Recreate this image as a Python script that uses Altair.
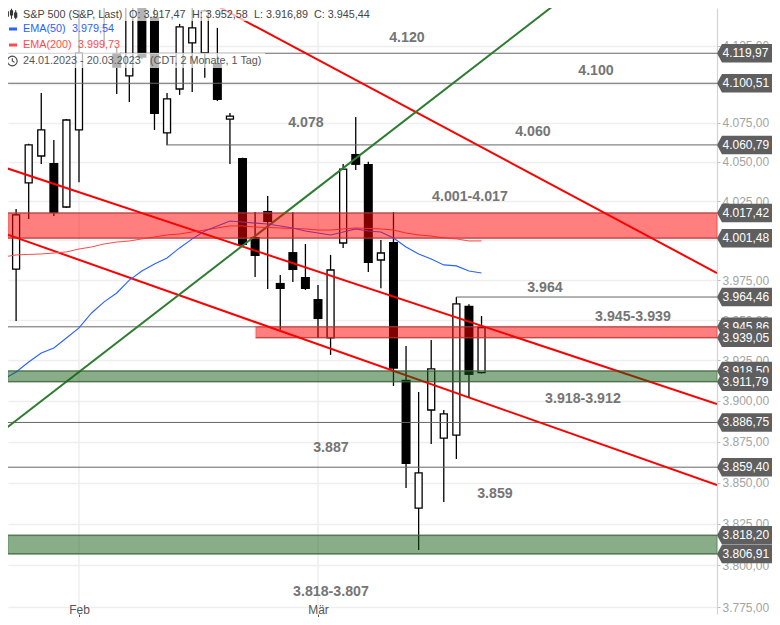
import altair as alt
import pandas as pd

FONT = "Liberation Sans"

# --- candles: bar index (0 = 1 Feb, 19 = 1 Mar), open, high, low, close
bar_index = list(range(-6, 33))
opens = [4001.6, 3982.0, 4036.5, 4053.7, 4049.2, 4021.2, 4070.4, 4158.0, 4136.7, 4120.2, 4105.3, 4153.5, 4143.7,
         4068.5, 4096.8, 4126.7, 4120.2, 4113.7, 4077.4, 4052.4, 4002.2, 4018.7, 3973.3, 3992.7, 3977.0, 3963.2,
         3939.0, 3998.4, 4055.0, 4048.6, 3987.7, 3999.0, 3913.0, 3834.6, 3894.4, 3877.2, 3879.0, 3959.0, 3917.47]
highs = [4024.4, 4020.0, 4061.5, 4094.2, 4064.0, 4077.4, 4148.2, 4195.0, 4182.0, 4124.0, 4176.0, 4156.0, 4156.0,
         4094.2, 4139.1, 4159.0, 4148.5, 4136.5, 4081.3, 4052.6, 4018.0, 4028.2, 3978.3, 4018.0, 3997.8, 3972.0,
         3990.9, 4048.6, 4078.7, 4050.0, 4000.3, 4018.0, 3934.0, 3905.5, 3937.7, 3894.4, 3964.5, 3960.0, 3952.58]
lows = [3990.2, 3949.5, 4013.6, 4048.6, 4015.5, 4020.6, 4037.0, 4153.0, 4124.0, 4093.6, 4088.4, 4116.0, 4070.4,
        4060.5, 4093.0, 4094.9, 4104.0, 4089.0, 4048.6, 3996.5, 3977.0, 3969.5, 3944.0, 3973.9, 3968.9, 3939.0,
        3928.4, 3995.3, 4044.7, 3980.2, 3970.0, 3909.2, 3846.8, 3809.3, 3873.5, 3838.3, 3864.4, 3902.4, 3916.89]
closes = [4016.8, 4016.2, 4060.8, 4070.4, 4017.4, 4076.8, 4120.2, 4179.0, 4136.5, 4110.5, 4164.0, 4117.0, 4080.7,
          4090.4, 4137.2, 4136.5, 4147.6, 4089.7, 4079.3, 3997.2, 3990.2, 4011.7, 3969.5, 3981.4, 3969.5, 3950.7,
          3981.4, 4045.3, 4048.0, 3985.8, 3992.1, 3919.8, 3861.3, 3855.9, 3919.8, 3892.0, 3960.2, 3916.0, 3945.44]

ema50 = [3913.5, 3917.8, 3924.0, 3929.6, 3932.7, 3938.9, 3945.2, 3954.5, 3961.4, 3967.0, 3975.1, 3980.8, 3985.2,
         3989.0, 3995.3, 4001.0, 4006.0, 4009.2, 4012.3, 4011.7, 4011.0, 4010.4, 4009.2, 4007.9, 4006.0, 4004.7,
         4003.5, 4005.4, 4007.3, 4006.0, 4005.4, 4001.6, 3995.9, 3991.5, 3988.3, 3984.6, 3984.0, 3980.8, 3979.54]
ema200 = [3989.6, 3990.9, 3991.2, 3991.5, 3992.1, 3992.8, 3994.6, 3995.9, 3997.8, 3999.0, 3999.7, 4001.0, 4002.2,
          4003.5, 4004.1, 4005.4, 4006.6, 4007.9, 4009.2, 4009.2, 4008.5, 4008.2, 4007.9, 4007.6, 4007.3, 4006.6,
          4006.6, 4007.3, 4007.9, 4007.6, 4007.3, 4006.6, 4004.7, 4003.5, 4002.8, 4001.6, 4001.0, 3999.7, 3999.73]

# --- trend lines: index and price of both ends
trend_red_upper = [(10.07, 4154.8), (50.72, 3979.5)]
trend_red_mid = [(-6.28, 4047.3), (50.72, 3898.1)]
trend_red_lower = [(-6.28, 4005.4), (50.72, 3848.5)]
trend_green = [(-6.28, 3880.3), (38.31, 4154.8)]

# --- horizontal levels and zones
right_end = 50.72
left_end = -5.644
level_prices = [4119.97, 4100.51, 4060.79, 4017.42, 4001.48, 3964.46, 3945.86, 3939.05,
                3918.50, 3911.79, 3886.75, 3859.40, 3818.20, 3806.91]
level_starts = [left_end, left_end, 7, left_end, left_end, 30, left_end, 14.05,
                left_end, left_end, left_end, left_end, left_end, left_end]
level_labels = ["4.119,97", "4.100,51", "4.060,79", "4.017,42", "4.001,48", "3.964,46", "3.945,86", "3.939,05",
                "3.918,50", "3.911,79", "3.886,75", "3.859,40", "3.818,20", "3.806,91"]
red_zones = [(left_end, 4017.42, 4001.48), (14.05, 3945.86, 3939.05)]
green_zones = [(left_end, 3918.50, 3911.79), (left_end, 3818.20, 3806.91)]

# --- annotations
note_texts = ["4.120", "4.100", "4.078", "4.060", "4.001-4.017", "3.964", "3.945-3.939", "3.918-3.912",
              "3.887", "3.859", "3.818-3.807"]
note_index = [26.07, 41.1, 18.04, 36.09, 31.08, 37.04, 44.04, 40.06, 20.03, 33.07, 20.03]
note_prices = [4129.9, 4108.6, 4074.9, 4069.1, 4027.6, 3970.1, 3952.0, 3901.2, 3871.1, 3843.2, 3784.2]

y_ticks = [4150, 4125, 4100, 4075, 4050, 4025, 4000, 3975, 3950, 3925, 3900, 3875, 3850, 3825, 3800, 3775]
month_index = [0, 19]

x_scale = alt.Scale(domain=[left_end, right_end], nice=False, zero=False, padding=0)
y_scale = alt.Scale(type="log", domain=[3771.0, 4149.5], nice=False)

y_axis = alt.Axis(
    orient="right", values=y_ticks, grid=True, gridColor="#eeeeee", gridWidth=1.5,
    domain=True, domainColor="#d4d4d4", domainWidth=1.2,
    ticks=True, tickColor="#bbbbbb", tickSize=3, tickWidth=1,
    labelColor="#a3a3a3", labelFont=FONT, labelFontSize=12, labelPadding=2, labelOverlap=False,
    labelExpr="replace(replace(replace(format(datum.value, ',.2f'), ',', '#'), '.', ','), '#', '.')",
    title=None,
)
x_axis = alt.Axis(
    values=month_index, grid=False, domain=False, ticks=True, tickColor="#555555", tickSize=3, tickWidth=1,
    labelColor="#555555", labelFont=FONT, labelFontSize=12, labelPadding=-4, labelBaseline="alphabetic",
    labelExpr="datum.value == 0 ? 'Feb' : 'Mär'", title=None,
)


def X(field="i"):
    return alt.X(f"{field}:Q", scale=x_scale, axis=x_axis, title=None)


def Y(field="p"):
    return alt.Y(f"{field}:Q", scale=y_scale, axis=y_axis, title=None)


candles = pd.DataFrame({"i": bar_index, "o": opens, "h": highs, "l": lows, "c": closes})
candles["up"] = candles["c"] >= candles["o"]

layers = []

# month grid lines
layers.append(
    alt.Chart(pd.DataFrame({"i": month_index, "top": [4149.5] * 2, "bottom": [3775] * 2}))
    .mark_rule(color="#eeeeee", strokeWidth=1.5)
    .encode(x=X(), y=Y("top"), y2="bottom:Q")
)

# wicks and bodies
layers.append(
    alt.Chart(candles).mark_rule(color="#000000", strokeWidth=1.3, clip=True)
    .encode(x=X(), y=Y("h"), y2="l:Q")
)
layers.append(
    alt.Chart(candles[candles["up"]]).mark_bar(size=7, fill="#ffffff", stroke="#000000", strokeWidth=1.3,
                                               orient="vertical", clip=True)
    .encode(x=X(), y=Y("o"), y2="c:Q")
)
layers.append(
    alt.Chart(candles[~candles["up"]]).mark_bar(size=9, fill="#000000", orient="vertical", clip=True)
    .encode(x=X(), y=Y("o"), y2="c:Q")
)

# horizontal levels
layers.append(
    alt.Chart(pd.DataFrame({"a": level_starts, "b": [right_end] * len(level_starts), "p": level_prices}))
    .mark_rule(color="#666666", strokeWidth=1)
    .encode(x=X("a"), x2="b:Q", y=Y())
)

# trend lines
for pts, col in [(trend_red_upper, "#ff0000"), (trend_red_mid, "#ff0000"),
                 (trend_red_lower, "#ff0000"), (trend_green, "#2e7d32")]:
    layers.append(
        alt.Chart(pd.DataFrame(pts, columns=["i", "p"]))
        .mark_line(color=col, strokeWidth=2, clip=True)
        .encode(x=X(), y=Y())
    )

# EMAs
layers.append(
    alt.Chart(pd.DataFrame({"i": bar_index, "p": ema200}))
    .mark_line(color="#ff4a4a", strokeWidth=1, clip=True).encode(x=X(), y=Y())
)
layers.append(
    alt.Chart(pd.DataFrame({"i": bar_index, "p": ema50}))
    .mark_line(color="#2962ff", strokeWidth=1.1, clip=True).encode(x=X(), y=Y())
)

# zones
for zones, col in [(red_zones, "#ff0000"), (green_zones, "#115c11")]:
    df = pd.DataFrame(zones, columns=["a", "t", "u"])
    df["b"] = right_end
    layers.append(
        alt.Chart(df).mark_rect(fill=col, fillOpacity=0.5, stroke=col, strokeOpacity=0.18, strokeWidth=2)
        .encode(x=X("a"), x2="b:Q", y=Y("t"), y2="u:Q")
    )

# annotations
layers.append(
    alt.Chart(pd.DataFrame({"i": note_index, "p": note_prices, "t": note_texts}))
    .mark_text(font=FONT, fontSize=14.2, fontWeight="bold", color="#757575", align="center", baseline="middle")
    .encode(x=X(), y=Y(), text="t:N")
)

# legend block (page coordinates minus the 8px page margin)
dummy = alt.Data(values=[{"k": 0}])
for x0, x1, y0, y1 in [(0, 362, 0, 13), (0, 112, 13, 45), (0, 257, 45, 60)]:
    layers.append(
        alt.Chart(dummy).mark_rect(fill="#ffffff", fillOpacity=0.7)
        .encode(x=alt.value(x0), x2=alt.value(x1), y=alt.value(y0), y2=alt.value(y1))
    )
legend_rows = [
    ("S&P 500 (S&P, Last)", 15, 6.5, "#444444"),
    ("O: 3.917,47", 121, 6.5, "#444444"),
    ("H: 3.952,58", 184, 6.5, "#444444"),
    ("L: 3.916,89", 246, 6.5, "#444444"),
    ("C: 3.945,44", 306, 6.5, "#444444"),
    ("EMA(50)", 15, 21, "#2962ff"),
    ("3.979,54", 64, 21, "#2962ff"),
    ("EMA(200)", 15, 37, "#ff4a4a"),
    ("3.999,73", 70, 37, "#ff4a4a"),
    ("24.01.2023 - 20.03.2023", 15, 53, "#555555"),
    ("(CDT, 2 Monate, 1 Tag)", 142, 53, "#555555"),
]
for txt, px, py, col in legend_rows:
    layers.append(
        alt.Chart(dummy).mark_text(font=FONT, fontSize=10.8, color=col, align="left", baseline="middle", text=txt)
        .encode(x=alt.value(px), y=alt.value(py))
    )
for py, col in [(21, "#2962ff"), (37, "#ff4a4a")]:
    layers.append(
        alt.Chart(dummy).mark_rule(color=col, strokeWidth=3)
        .encode(x=alt.value(1), x2=alt.value(9), y=alt.value(py))
    )
# candlestick glyph and clock glyph
candle_glyph = ("M-0.8 -0.9L-0.8 0.9M-1 -0.4L-0.6 -0.4L-0.6 0.4L-1 0.4Z"
                "M0 -1L0 0.9M-0.2 -0.6L0.2 -0.6L0.2 0.2L-0.2 0.2Z"
                "M0.8 -0.7L0.8 1M0.6 -0.2L1 -0.2L1 0.6L0.6 0.6Z")
layers.append(
    alt.Chart(dummy).mark_point(shape=candle_glyph, size=110, stroke="#333333", strokeWidth=1.1, opacity=1, filled=False)
    .encode(x=alt.value(3.5), y=alt.value(6))
)
layers.append(
    alt.Chart(dummy).mark_point(shape="circle", size=95, stroke="#444444", strokeWidth=1.1, opacity=1, filled=False)
    .encode(x=alt.value(4.3), y=alt.value(53))
)
layers.append(
    alt.Chart(dummy).mark_point(shape="M0 -0.7L0 0L0.55 0.35", size=64, stroke="#444444", strokeWidth=1.1, opacity=1, filled=False)
    .encode(x=alt.value(4.3), y=alt.value(53))
)

# price tags, drawn one after another so that a lower tag covers the one above
tag_shape = "M-1 0L-0.82 -0.336L1 -0.336L1 0.336L-0.82 0.336Z"
for price, label in zip(level_prices, level_labels):
    one = pd.DataFrame({"p": [price], "t": [label]})
    layers.append(
        alt.Chart(one).mark_point(shape=tag_shape, size=3025, fill="#5f5f5f", fillOpacity=1, strokeWidth=0, filled=True, opacity=1)
        .encode(x=alt.value(736.5), y=Y())
    )
    layers.append(
        alt.Chart(one).mark_text(font=FONT, fontSize=12, color="#ffffff", align="left", baseline="middle")
        .encode(x=alt.value(714.5), y=Y(), text="t:N")
    )

chart = (
    alt.layer(*layers)
    .properties(
        width=709, height=606, background="#ffffff",
        autosize=alt.AutoSizeParams(type="none", contains="content"),
        padding={"left": 0, "top": 0, "right": 55, "bottom": 3},
    )
    .resolve_scale(x="shared", y="shared")
    .configure_view(stroke=None)
)
chart.save("out.html", embed_options={"renderer": "svg", "actions": False})
